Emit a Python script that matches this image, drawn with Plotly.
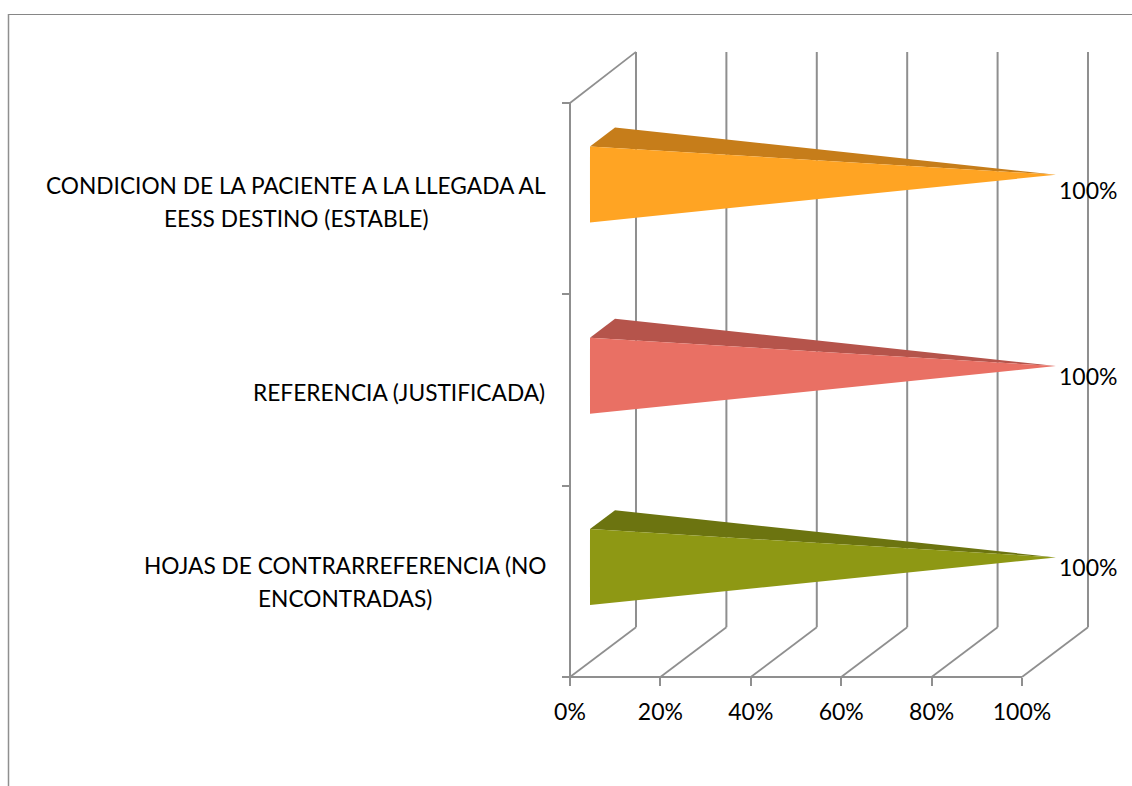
import plotly.graph_objects as go

categories = ["HOJAS DE CONTRARREFERENCIA (NO<br>ENCONTRADAS)",
              "REFERENCIA (JUSTIFICADA)",
              "CONDICION DE LA PACIENTE A LA LLEGADA AL<br>EESS DESTINO (ESTABLE)"]
values = [100, 100, 100]
tick_values = [0, 20, 40, 60, 80, 100]
face_colors = ["#8E9814", "#E97064", "#FFA423"]
top_colors = ["#6C7410", "#B5544B", "#C67D1A"]

FONT = "Lato, Carlito, sans-serif"
FS = 23
GRAY = "#8F8F8F"
# pseudo-3D depth of the chart box, in data units
DX, DY = 14.6, 0.26
W, H = 1132, 786
L, R, T, B = 570, 1022, 103, 677
PX = (R - L) / 100
PY = (B - T) / 3

fig = go.Figure()

def line(xs, ys, width):
    fig.add_trace(go.Scatter(x=xs, y=ys, mode="lines", hoverinfo="skip",
                             showlegend=False, line=dict(color=GRAY, width=width)))

# back wall verticals and floor lines
for t in tick_values:
    line([t + DX, t + DX], [DY, 3 + DY + 0.007], 2)
    line([t, t + DX], [0, DY], 1.75)
line([0, DX], [3, 3 + DY + 0.007], 1.75)
# front axis lines
line([0, 100], [0, 0], 2)
line([0, 0], [0, 3], 2)

# cones
for i, (v, fc, tc) in enumerate(zip(values, face_colors, top_colors)):
    c = i + 0.5
    tip = (v + 7.5, c + 0.125)
    fig.add_trace(go.Scatter(x=[4.42, 9.96, tip[0], 4.42], y=[c + 0.273, c + 0.372, tip[1], c + 0.273],
                             mode="lines", fill="toself", fillcolor=tc, line=dict(width=0),
                             hoverinfo="skip", showlegend=False))
    fig.add_trace(go.Scatter(x=[4.42, 4.42, tip[0], 4.42], y=[c + 0.273, c - 0.124, tip[1], c + 0.273],
                             mode="lines", fill="toself", fillcolor=fc, line=dict(width=0),
                             hoverinfo="skip", showlegend=False))

annotations = []
# data labels
label_shift = [0, 0, -6]
for i, v in enumerate(values):
    annotations.append(dict(x=v + 8.2, y=i + 0.5 + 0.075, xref="x", yref="y", xshift=-2.5,
                            yshift=label_shift[i],
                            text=f"{v}%", showarrow=False, xanchor="left", yanchor="middle",
                            font=dict(family=FONT, size=FS, color="#000000")))
# category labels: each line placed on its own, centred on the longest line
centres_px = [345, 399, 296]
cat_shift = [-1, -2, -3]
for i, cat in enumerate(categories):
    lines = cat.split("<br>")
    cx = (centres_px[i] - L) / PX
    pitch = 33 / PY
    for j, txt in enumerate(lines):
        y = i + 0.5 + (len(lines) - 1) * pitch / 2 - j * pitch
        annotations.append(dict(x=cx, y=y, xref="x", yref="y", yshift=cat_shift[i], text=txt,
                                showarrow=False, xanchor="center", yanchor="middle",
                                font=dict(family=FONT, size=22.7, color="#000000")))

# outer frame
shapes = [
    dict(type="line", xref="paper", yref="paper", x0=8 / W, x1=1, y0=1 - 14.5 / H, y1=1 - 14.5 / H,
         line=dict(color="#868686", width=1)),
    dict(type="line", xref="paper", yref="paper", x0=8.5 / W, x1=8.5 / W, y0=1 - 14 / H, y1=0,
         line=dict(color="#8F8F8F", width=1.5)),
]

fig.update_layout(
    width=W, height=H, paper_bgcolor="white", plot_bgcolor="white",
    margin=dict(l=0, r=0, t=0, b=0, pad=0), showlegend=False,
    font=dict(family=FONT, size=FS, color="#000000"),
    annotations=annotations, shapes=shapes,
    xaxis=dict(range=[-L / PX, (W - L) / PX], tickvals=tick_values, ticktext=[f"{t}%" for t in tick_values],
               anchor="free", position=(H - B) / H, ticklabelstandoff=6,
               ticks="outside", ticklen=8, tickwidth=2, tickcolor=GRAY, showgrid=False, zeroline=False,
               showline=False, tickfont=dict(family=FONT, size=FS, color="#000000")),
    yaxis=dict(range=[-(H - B) / PY, B / PY], tickvals=[0, 1, 2, 3], showticklabels=False,
               anchor="free", position=L / W,
               ticks="outside", ticklen=8, tickwidth=2, tickcolor=GRAY, showgrid=False, zeroline=False,
               showline=False),
)

fig.write_html("out.html", config={"displayModeBar": False},
               post_script="document.body.style.margin='0';document.body.style.overflow='hidden';")
